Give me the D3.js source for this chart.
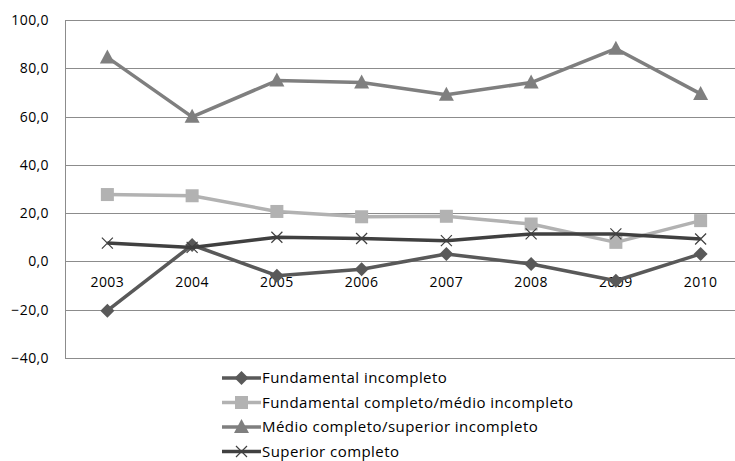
<!DOCTYPE html>
<html>
<head>
<meta charset="utf-8">
<script src="https://cdn.jsdelivr.net/npm/d3@7"></script>
<style>
  html, body { margin: 0; padding: 0; background: #fff; }
  svg { display: block; }
</style>
</head>
<body>
<svg id="chart" width="735" height="461"></svg>
<script>
// Years on the category axis
const years = ["2003", "2004", "2005", "2006", "2007", "2008", "2009", "2010"];

// Series values by schooling level
const fundIncompleto = [-20.4, 6.8, -5.9, -3.2, 3.1, -1.1, -8.0, 3.1];
const fundCompleto = [27.7, 27.2, 20.7, 18.5, 18.7, 15.5, 7.9, 16.9];
const medioCompleto = [84.5, 59.9, 74.9, 74.1, 69.0, 74.1, 88.1, 69.4];
const superiorCompleto = [7.6, 5.8, 10.0, 9.5, 8.6, 11.4, 11.4, 9.3];

// Value axis ticks
const yTicks = [-40, -20, 0, 20, 40, 60, 80, 100];

const seriesNames = [
  "Fundamental incompleto",
  "Fundamental completo/médio incompleto",
  "Médio completo/superior incompleto",
  "Superior completo"
];

const series = [
  { name: seriesNames[0], values: fundIncompleto, color: "#595959", marker: "diamond" },
  { name: seriesNames[1], values: fundCompleto, color: "#b2b2b2", marker: "square" },
  { name: seriesNames[2], values: medioCompleto, color: "#7f7f7f", marker: "triangle" },
  { name: seriesNames[3], values: superiorCompleto, color: "#404040", marker: "cross" }
];

const svg = d3.select("#chart");
const plot = { left: 65, top: 20, right: 743, bottom: 358 };
const font = "'Open Sans', Lato, sans-serif";

const x = d3.scaleBand().domain(years).range([plot.left, plot.right]);
const y = d3.scaleLinear().domain([-40, 100]).range([plot.bottom, plot.top]);
const cx = d => x(d) + x.bandwidth() / 2;
const fmt = v => d3.format(".1f")(v).replace(".", ",");

// Horizontal gridlines
svg.append("g")
  .selectAll("line")
  .data(yTicks)
  .join("line")
  .attr("x1", plot.left).attr("x2", plot.right)
  .attr("y1", d => Math.round(y(d)) + 0.5).attr("y2", d => Math.round(y(d)) + 0.5)
  .attr("stroke", "#8c8c8c").attr("stroke-width", 1);

// Vertical value axis line
svg.append("line")
  .attr("x1", plot.left + 0.5).attr("x2", plot.left + 0.5)
  .attr("y1", Math.round(y(100)) + 0.5).attr("y2", Math.round(y(-40)) + 0.5)
  .attr("stroke", "#8c8c8c").attr("stroke-width", 1);

// Value axis labels
const yAxis = d3.axisLeft(y).tickValues(yTicks).tickFormat(fmt).tickSize(0).tickPadding(16);
const gy = svg.append("g").attr("transform", `translate(${plot.left},0)`).call(yAxis);
gy.select(".domain").remove();
gy.selectAll("text").style("font-size", "14px").style("letter-spacing", "0.4px")
  .style("font-family", font).style("fill", "#000");

// Category labels sit just under the zero line
const xAxis = d3.axisBottom(x).tickSize(0).tickPadding(16);
const gx = svg.append("g").attr("transform", `translate(0,${y(0)})`).call(xAxis);
gx.select(".domain").remove();
gx.selectAll("text").style("font-size", "14px").style("letter-spacing", "0.4px")
  .style("font-family", font).style("fill", "#000");

// Marker shapes
function drawMarker(g, type, color, px, py) {
  if (type === "diamond") {
    g.append("path")
      .attr("d", `M${px},${py - 7}L${px + 7},${py}L${px},${py + 7}L${px - 7},${py}Z`)
      .attr("fill", color);
  } else if (type === "square") {
    g.append("rect")
      .attr("x", px - 6.5).attr("y", py - 6.5).attr("width", 13).attr("height", 13)
      .attr("fill", color);
  } else if (type === "triangle") {
    g.append("path")
      .attr("d", `M${px},${py - 8}L${px + 7.5},${py + 6}L${px - 7.5},${py + 6}Z`)
      .attr("fill", color);
  } else if (type === "cross") {
    g.append("path")
      .attr("d", `M${px - 5.5},${py - 5.5}L${px + 5.5},${py + 5.5}M${px + 5.5},${py - 5.5}L${px - 5.5},${py + 5.5}`)
      .attr("stroke", color).attr("stroke-width", 1.2).attr("fill", "none");
  }
}

const line = d3.line().x((d, i) => cx(years[i])).y(d => y(d));

// Draw in order so the lightest series ends up underneath
const drawOrder = [2, 1, 0, 3];
drawOrder.forEach(k => {
  const s = series[k];
  const g = svg.append("g");
  g.append("path")
    .datum(s.values)
    .attr("d", line)
    .attr("fill", "none")
    .attr("stroke", s.color)
    .attr("stroke-width", 3.5)
    .attr("stroke-linejoin", "round");
  s.values.forEach((v, i) => drawMarker(g, s.marker, s.color, cx(years[i]), y(v)));
});

// Legend
const legendX = 222, legendY0 = 378, legendStep = 24.5;
series.forEach((s, i) => {
  const ly = legendY0 + i * legendStep;
  const g = svg.append("g");
  g.append("line")
    .attr("x1", legendX).attr("x2", legendX + 39)
    .attr("y1", ly).attr("y2", ly)
    .attr("stroke", s.color).attr("stroke-width", 3.5);
  drawMarker(g, s.marker, s.color, legendX + 19.5, ly);
  g.append("text")
    .attr("x", legendX + 40).attr("y", ly)
    .attr("dy", "0.35em")
    .style("font-size", "15px")
    .style("letter-spacing", "0.45px")
    .style("font-family", font)
    .style("fill", "#000")
    .text(s.name);
});
</script>
</body>
</html>
